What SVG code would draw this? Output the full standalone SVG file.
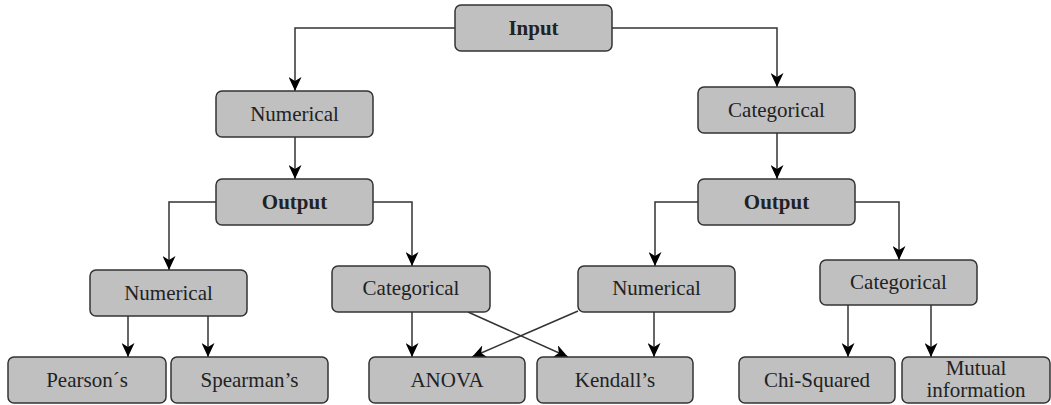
<svg xmlns="http://www.w3.org/2000/svg" width="1051" height="405" viewBox="0 0 1051 405">
  <defs>
    <marker id="arrow" viewBox="0 0 14 13" markerWidth="14" markerHeight="13" refX="14" refY="6.5" orient="auto" markerUnits="userSpaceOnUse">
      <path d="M0,0 L14,6.5 L0,13 L4,6.5 Z" fill="#000"/>
    </marker>
  </defs>
  <style>
    .box { fill: #c0c0c0; stroke: #333; stroke-width: 1.5; }
    .lbl { font-family: "Liberation Serif", "Times New Roman", serif; font-size: 21px; fill: #222; text-anchor: middle; }
    .bold { font-weight: bold; }
    .edge { fill: none; stroke: #333; stroke-width: 1.5; marker-end: url(#arrow); }
  </style>
  <rect width="1051" height="405" fill="#fff"/>

  <!-- connectors -->
  <g id="connectors">
    <path class="edge" d="M455,28 H295 V91"/>
    <path class="edge" d="M612,28 H777 V87"/>
    <path class="edge" d="M295,137 V179"/>
    <path class="edge" d="M777,133 V179"/>
    <path class="edge" d="M216,202 H169 V270"/>
    <path class="edge" d="M373,202 H412 V266"/>
    <path class="edge" d="M698,202 H655 V266"/>
    <path class="edge" d="M855,202 H899 V260"/>
    <path class="edge" d="M128,316 V357"/>
    <path class="edge" d="M208,316 V357"/>
    <path class="edge" d="M412,312 V357"/>
    <path class="edge" d="M468,312 L568,357"/>
    <path class="edge" d="M654,312 V357"/>
    <path class="edge" d="M578,311 L472,357"/>
    <path class="edge" d="M848,305 V357"/>
    <path class="edge" d="M931,305 V357"/>
  </g>

  <!-- level 0 -->
  <g id="input">
    <rect class="box" x="455" y="5" width="157" height="46" rx="6"/>
    <text class="lbl bold" x="533.5" y="35">Input</text>
  </g>

  <!-- level 1 -->
  <g id="input-numerical">
    <rect class="box" x="216" y="91" width="157" height="46" rx="6"/>
    <text class="lbl" x="294.5" y="121">Numerical</text>
  </g>
  <g id="input-categorical">
    <rect class="box" x="698" y="87" width="157" height="46" rx="6"/>
    <text class="lbl" x="776.5" y="117">Categorical</text>
  </g>

  <!-- level 2 -->
  <g id="output-left">
    <rect class="box" x="216" y="179" width="157" height="46" rx="6"/>
    <text class="lbl bold" x="294.5" y="209">Output</text>
  </g>
  <g id="output-right">
    <rect class="box" x="698" y="179" width="157" height="46" rx="6"/>
    <text class="lbl bold" x="776.5" y="209">Output</text>
  </g>

  <!-- level 3 -->
  <g id="num-num">
    <rect class="box" x="90" y="270" width="157" height="46" rx="6"/>
    <text class="lbl" x="168.5" y="300">Numerical</text>
  </g>
  <g id="num-cat">
    <rect class="box" x="332" y="266" width="158" height="46" rx="6"/>
    <text class="lbl" x="411" y="295">Categorical</text>
  </g>
  <g id="cat-num">
    <rect class="box" x="578" y="266" width="157" height="46" rx="6"/>
    <text class="lbl" x="656.5" y="295">Numerical</text>
  </g>
  <g id="cat-cat">
    <rect class="box" x="820" y="260" width="157" height="45" rx="6"/>
    <text class="lbl" x="898.5" y="289">Categorical</text>
  </g>

  <!-- level 4: methods -->
  <g id="pearson">
    <rect class="box" x="8" y="357" width="158" height="46" rx="6"/>
    <text class="lbl" x="87" y="387">Pearson´s</text>
  </g>
  <g id="spearman">
    <rect class="box" x="171" y="357" width="157" height="46" rx="6"/>
    <text class="lbl" x="249.5" y="387">Spearman’s</text>
  </g>
  <g id="anova">
    <rect class="box" x="369" y="357" width="156" height="46" rx="6"/>
    <text class="lbl" x="447" y="387">ANOVA</text>
  </g>
  <g id="kendall">
    <rect class="box" x="537" y="357" width="156" height="46" rx="6"/>
    <text class="lbl" x="615" y="387">Kendall’s</text>
  </g>
  <g id="chi-squared">
    <rect class="box" x="739" y="357" width="156" height="46" rx="6"/>
    <text class="lbl" x="817" y="387">Chi-Squared</text>
  </g>
  <g id="mutual-information">
    <rect class="box" x="902" y="357" width="148" height="46" rx="6"/>
    <text class="lbl" x="976" y="375">Mutual</text>
    <text class="lbl" x="976" y="397">information</text>
  </g>
</svg>
